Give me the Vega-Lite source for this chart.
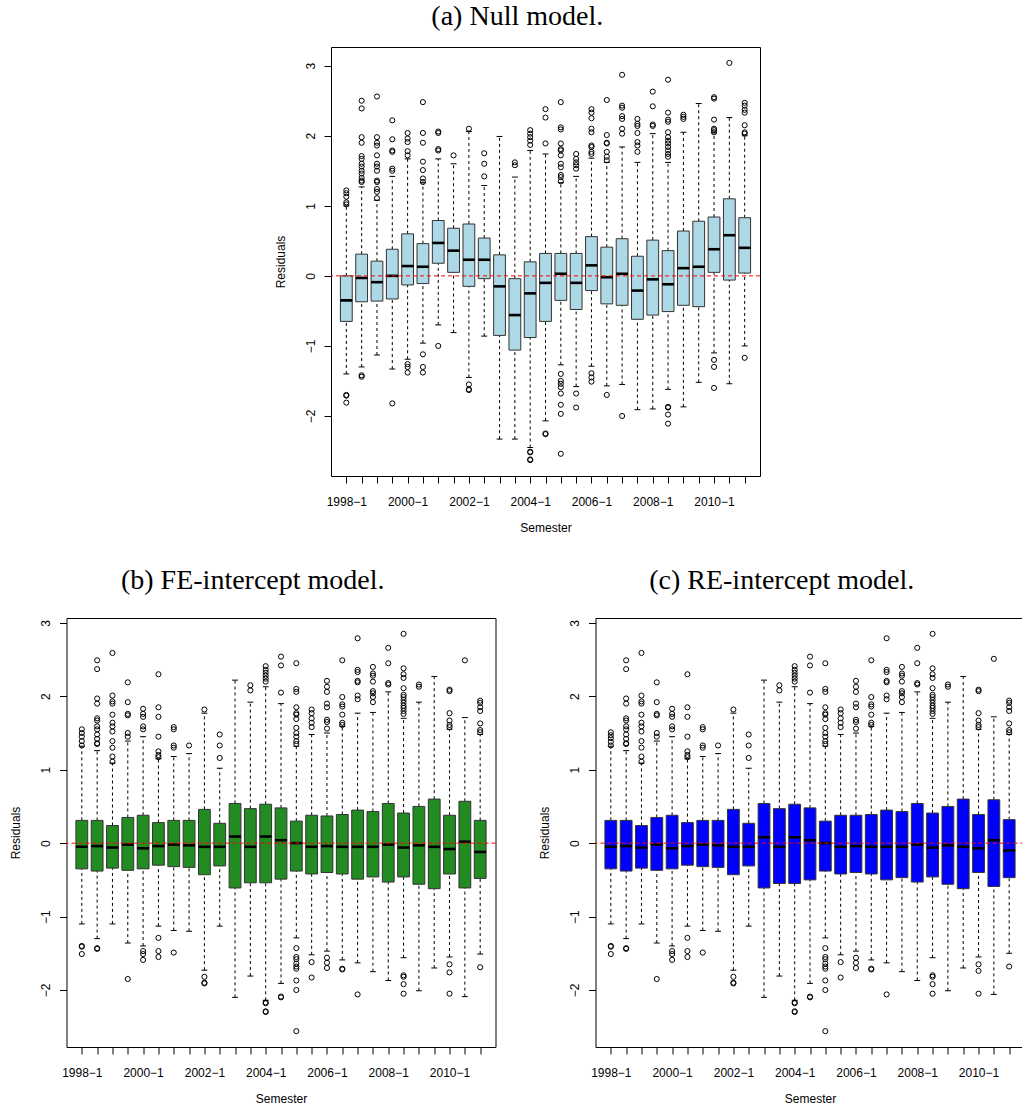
{
"$schema": "https://vega.github.io/schema/vega-lite/v6.json",
"padding": {"left": 8.5, "top": 2, "right": 0, "bottom": 0},
"background": "white",
"config": {
  "view": {"stroke": "black", "strokeWidth": 1},
  "axis": {"labelFont": "Liberation Sans", "titleFont": "Liberation Sans", "labelFontSize": 12, "titleFontSize": 12, "titleFontWeight": "normal", "labelColor": "#000", "titleColor": "#000", "tickColor": "#000", "domain": false, "grid": false, "tickSize": 7, "tickWidth": 1},
  "title": {"font": "Liberation Serif", "fontSize": 28, "fontWeight": "normal", "color": "#000", "frame": "bounds", "anchor": "middle", "baseline": "alphabetic"}
},
"datasets": {
  "a_box": [
    {"s":"1998-1","lo":-1.40,"q1":-0.65,"med":-0.35,"q3":0.00,"hi":1.00},
    {"s":"1998-2","lo":-1.30,"q1":-0.37,"med":-0.03,"q3":0.31,"hi":1.27},
    {"s":"1999-1","lo":-1.13,"q1":-0.36,"med":-0.09,"q3":0.21,"hi":1.08},
    {"s":"1999-2","lo":-1.33,"q1":-0.33,"med":0.00,"q3":0.38,"hi":1.42},
    {"s":"2000-1","lo":-1.19,"q1":-0.13,"med":0.14,"q3":0.60,"hi":1.67},
    {"s":"2000-2","lo":-0.96,"q1":-0.11,"med":0.13,"q3":0.46,"hi":1.33},
    {"s":"2001-1","lo":-0.70,"q1":0.18,"med":0.47,"q3":0.79,"hi":1.67},
    {"s":"2001-2","lo":-0.81,"q1":0.05,"med":0.36,"q3":0.68,"hi":1.60},
    {"s":"2002-1","lo":-1.45,"q1":-0.15,"med":0.23,"q3":0.74,"hi":2.06},
    {"s":"2002-2","lo":-0.86,"q1":-0.04,"med":0.23,"q3":0.54,"hi":1.29},
    {"s":"2003-1","lo":-2.33,"q1":-0.85,"med":-0.15,"q3":0.30,"hi":1.99},
    {"s":"2003-2","lo":-2.33,"q1":-1.06,"med":-0.56,"q3":-0.04,"hi":1.41},
    {"s":"2004-1","lo":-2.45,"q1":-0.88,"med":-0.25,"q3":0.20,"hi":1.79},
    {"s":"2004-2","lo":-2.07,"q1":-0.65,"med":-0.10,"q3":0.32,"hi":1.74},
    {"s":"2005-1","lo":-1.27,"q1":-0.35,"med":0.03,"q3":0.32,"hi":1.33},
    {"s":"2005-2","lo":-1.58,"q1":-0.48,"med":-0.10,"q3":0.32,"hi":1.42},
    {"s":"2006-1","lo":-1.29,"q1":-0.21,"med":0.15,"q3":0.56,"hi":1.68},
    {"s":"2006-2","lo":-1.57,"q1":-0.40,"med":-0.02,"q3":0.41,"hi":1.62},
    {"s":"2007-1","lo":-1.55,"q1":-0.42,"med":0.03,"q3":0.53,"hi":1.84},
    {"s":"2007-2","lo":-1.91,"q1":-0.62,"med":-0.21,"q3":0.28,"hi":1.62},
    {"s":"2008-1","lo":-1.90,"q1":-0.56,"med":-0.05,"q3":0.51,"hi":2.03},
    {"s":"2008-2","lo":-1.62,"q1":-0.51,"med":-0.12,"q3":0.36,"hi":1.62},
    {"s":"2009-1","lo":-1.87,"q1":-0.42,"med":0.11,"q3":0.64,"hi":2.05},
    {"s":"2009-2","lo":-1.52,"q1":-0.44,"med":0.13,"q3":0.78,"hi":2.46},
    {"s":"2010-1","lo":-1.10,"q1":0.05,"med":0.38,"q3":0.84,"hi":2.04},
    {"s":"2010-2","lo":-1.54,"q1":-0.06,"med":0.58,"q3":1.10,"hi":2.26},
    {"s":"2011-1","lo":-1.00,"q1":0.04,"med":0.40,"q3":0.83,"hi":2.00}
  ],
  "a_out": [
    {"s":"1998-1","v":1.02},{"s":"1998-1","v":1.05},{"s":"1998-1","v":1.13},{"s":"1998-1","v":1.18},{"s":"1998-1","v":1.22},{"s":"1998-1","v":-1.70},{"s":"1998-1","v":-1.71},{"s":"1998-1","v":-1.81},
    {"s":"1998-2","v":2.50},{"s":"1998-2","v":2.39},{"s":"1998-2","v":1.98},{"s":"1998-2","v":1.90},{"s":"1998-2","v":1.71},{"s":"1998-2","v":1.67},{"s":"1998-2","v":1.60},{"s":"1998-2","v":1.56},{"s":"1998-2","v":1.50},{"s":"1998-2","v":1.46},{"s":"1998-2","v":1.40},{"s":"1998-2","v":1.36},{"s":"1998-2","v":1.34},{"s":"1998-2","v":-1.42},{"s":"1998-2","v":-1.44},
    {"s":"1999-1","v":2.56},{"s":"1999-1","v":1.98},{"s":"1999-1","v":1.90},{"s":"1999-1","v":1.86},{"s":"1999-1","v":1.72},{"s":"1999-1","v":1.60},{"s":"1999-1","v":1.56},{"s":"1999-1","v":1.50},{"s":"1999-1","v":1.36},{"s":"1999-1","v":1.34},{"s":"1999-1","v":1.24},{"s":"1999-1","v":1.20},{"s":"1999-1","v":1.11},
    {"s":"1999-2","v":2.22},{"s":"1999-2","v":1.95},{"s":"1999-2","v":1.79},{"s":"1999-2","v":1.77},{"s":"1999-2","v":1.53},{"s":"1999-2","v":1.50},{"s":"1999-2","v":-1.82},
    {"s":"2000-1","v":2.04},{"s":"2000-1","v":1.96},{"s":"2000-1","v":1.91},{"s":"2000-1","v":1.78},{"s":"2000-1","v":1.72},{"s":"2000-1","v":-1.26},{"s":"2000-1","v":-1.30},{"s":"2000-1","v":-1.38},
    {"s":"2000-2","v":2.48},{"s":"2000-2","v":2.04},{"s":"2000-2","v":1.90},{"s":"2000-2","v":1.63},{"s":"2000-2","v":1.51},{"s":"2000-2","v":1.39},{"s":"2000-2","v":1.34},{"s":"2000-2","v":-1.12},{"s":"2000-2","v":-1.30},{"s":"2000-2","v":-1.38},
    {"s":"2001-1","v":2.06},{"s":"2001-1","v":2.04},{"s":"2001-1","v":1.81},{"s":"2001-1","v":1.79},{"s":"2001-1","v":-1.00},
    {"s":"2001-2","v":1.72},
    {"s":"2002-1","v":2.10},{"s":"2002-1","v":-1.55},{"s":"2002-1","v":-1.62},{"s":"2002-1","v":-1.63},
    {"s":"2002-2","v":1.75},{"s":"2002-2","v":1.60},{"s":"2002-2","v":1.42},
    {"s":"2003-2","v":1.62},{"s":"2003-2","v":1.58},
    {"s":"2004-1","v":2.08},{"s":"2004-1","v":2.03},{"s":"2004-1","v":1.98},{"s":"2004-1","v":1.93},{"s":"2004-1","v":1.87},{"s":"2004-1","v":-2.51},{"s":"2004-1","v":-2.52},{"s":"2004-1","v":-2.62},{"s":"2004-1","v":-2.63},
    {"s":"2004-2","v":2.38},{"s":"2004-2","v":2.26},{"s":"2004-2","v":1.89},{"s":"2004-2","v":-2.25},{"s":"2004-2","v":-2.26},
    {"s":"2005-1","v":2.48},{"s":"2005-1","v":2.12},{"s":"2005-1","v":2.09},{"s":"2005-1","v":1.89},{"s":"2005-1","v":1.81},{"s":"2005-1","v":1.79},{"s":"2005-1","v":1.72},{"s":"2005-1","v":1.60},{"s":"2005-1","v":1.55},{"s":"2005-1","v":1.44},{"s":"2005-1","v":1.41},{"s":"2005-1","v":1.35},{"s":"2005-1","v":-1.40},{"s":"2005-1","v":-1.50},{"s":"2005-1","v":-1.54},{"s":"2005-1","v":-1.59},{"s":"2005-1","v":-1.68},{"s":"2005-1","v":-1.84},{"s":"2005-1","v":-1.97},{"s":"2005-1","v":-2.54},
    {"s":"2005-2","v":1.74},{"s":"2005-2","v":1.67},{"s":"2005-2","v":1.62},{"s":"2005-2","v":1.58},{"s":"2005-2","v":1.53},{"s":"2005-2","v":-1.68},{"s":"2005-2","v":-1.88},
    {"s":"2006-1","v":2.38},{"s":"2006-1","v":2.33},{"s":"2006-1","v":2.25},{"s":"2006-1","v":2.10},{"s":"2006-1","v":2.05},{"s":"2006-1","v":1.86},{"s":"2006-1","v":1.84},{"s":"2006-1","v":1.77},{"s":"2006-1","v":1.74},{"s":"2006-1","v":-1.39},{"s":"2006-1","v":-1.45},{"s":"2006-1","v":-1.51},
    {"s":"2006-2","v":2.51},{"s":"2006-2","v":2.01},{"s":"2006-2","v":1.90},{"s":"2006-2","v":1.89},{"s":"2006-2","v":1.77},{"s":"2006-2","v":1.70},{"s":"2006-2","v":1.65},{"s":"2006-2","v":-1.70},
    {"s":"2007-1","v":2.87},{"s":"2007-1","v":2.43},{"s":"2007-1","v":2.40},{"s":"2007-1","v":2.28},{"s":"2007-1","v":2.24},{"s":"2007-1","v":2.10},{"s":"2007-1","v":2.03},{"s":"2007-1","v":-2.00},
    {"s":"2007-2","v":2.24},{"s":"2007-2","v":2.17},{"s":"2007-2","v":2.14},{"s":"2007-2","v":2.04},{"s":"2007-2","v":1.91},{"s":"2007-2","v":1.86},{"s":"2007-2","v":1.77},
    {"s":"2008-1","v":2.63},{"s":"2008-1","v":2.42},{"s":"2008-1","v":2.16},{"s":"2008-1","v":2.14},
    {"s":"2008-2","v":2.80},{"s":"2008-2","v":2.33},{"s":"2008-2","v":2.23},{"s":"2008-2","v":2.20},{"s":"2008-2","v":2.05},{"s":"2008-2","v":1.98},{"s":"2008-2","v":1.93},{"s":"2008-2","v":1.89},{"s":"2008-2","v":1.84},{"s":"2008-2","v":1.79},{"s":"2008-2","v":1.74},{"s":"2008-2","v":1.70},{"s":"2008-2","v":-1.87},{"s":"2008-2","v":-1.88},{"s":"2008-2","v":-1.98},{"s":"2008-2","v":-2.11},
    {"s":"2009-1","v":2.30},{"s":"2009-1","v":2.27},{"s":"2009-1","v":2.24},
    {"s":"2010-1","v":2.55},{"s":"2010-1","v":2.53},{"s":"2010-1","v":2.23},{"s":"2010-1","v":2.10},{"s":"2010-1","v":2.08},{"s":"2010-1","v":2.05},{"s":"2010-1","v":-1.20},{"s":"2010-1","v":-1.30},{"s":"2010-1","v":-1.60},
    {"s":"2010-2","v":3.04},
    {"s":"2011-1","v":2.47},{"s":"2011-1","v":2.43},{"s":"2011-1","v":2.37},{"s":"2011-1","v":2.33},{"s":"2011-1","v":2.15},{"s":"2011-1","v":2.05},{"s":"2011-1","v":2.03},{"s":"2011-1","v":-1.17}
  ],
  "b_box": [
    {"s":"1998-1","lo":-1.10,"q1":-0.35,"med":-0.05,"q3":0.31,"hi":1.32},
    {"s":"1998-2","lo":-1.30,"q1":-0.38,"med":-0.04,"q3":0.31,"hi":1.26},
    {"s":"1999-1","lo":-1.10,"q1":-0.34,"med":-0.06,"q3":0.24,"hi":1.09},
    {"s":"1999-2","lo":-1.36,"q1":-0.37,"med":-0.02,"q3":0.35,"hi":1.39},
    {"s":"2000-1","lo":-1.40,"q1":-0.35,"med":-0.07,"q3":0.38,"hi":1.45},
    {"s":"2000-2","lo":-1.13,"q1":-0.30,"med":-0.04,"q3":0.28,"hi":1.15},
    {"s":"2001-1","lo":-1.19,"q1":-0.32,"med":-0.02,"q3":0.31,"hi":1.18},
    {"s":"2001-2","lo":-1.20,"q1":-0.33,"med":-0.03,"q3":0.31,"hi":1.22},
    {"s":"2002-1","lo":-1.73,"q1":-0.43,"med":-0.05,"q3":0.46,"hi":1.77},
    {"s":"2002-2","lo":-1.13,"q1":-0.31,"med":-0.05,"q3":0.27,"hi":1.02},
    {"s":"2003-1","lo":-2.10,"q1":-0.61,"med":0.09,"q3":0.54,"hi":2.22},
    {"s":"2003-2","lo":-1.81,"q1":-0.54,"med":-0.05,"q3":0.47,"hi":1.92},
    {"s":"2004-1","lo":-2.14,"q1":-0.54,"med":0.09,"q3":0.53,"hi":2.13},
    {"s":"2004-2","lo":-1.91,"q1":-0.49,"med":0.04,"q3":0.48,"hi":1.90},
    {"s":"2005-1","lo":-1.29,"q1":-0.38,"med":0.00,"q3":0.30,"hi":1.32},
    {"s":"2005-2","lo":-1.52,"q1":-0.42,"med":-0.05,"q3":0.38,"hi":1.48},
    {"s":"2006-1","lo":-1.47,"q1":-0.40,"med":-0.04,"q3":0.37,"hi":1.50},
    {"s":"2006-2","lo":-1.59,"q1":-0.42,"med":-0.05,"q3":0.39,"hi":1.59},
    {"s":"2007-1","lo":-1.63,"q1":-0.49,"med":-0.05,"q3":0.45,"hi":1.77},
    {"s":"2007-2","lo":-1.75,"q1":-0.46,"med":-0.05,"q3":0.43,"hi":1.78},
    {"s":"2008-1","lo":-1.87,"q1":-0.53,"med":-0.02,"q3":0.54,"hi":2.06},
    {"s":"2008-2","lo":-1.56,"q1":-0.46,"med":-0.06,"q3":0.41,"hi":1.70},
    {"s":"2009-1","lo":-2.01,"q1":-0.56,"med":-0.03,"q3":0.50,"hi":1.92},
    {"s":"2009-2","lo":-1.70,"q1":-0.62,"med":-0.05,"q3":0.60,"hi":2.27},
    {"s":"2010-1","lo":-1.55,"q1":-0.42,"med":-0.08,"q3":0.38,"hi":1.55},
    {"s":"2010-2","lo":-2.09,"q1":-0.61,"med":0.02,"q3":0.57,"hi":1.71},
    {"s":"2011-1","lo":-1.51,"q1":-0.48,"med":-0.12,"q3":0.31,"hi":1.48}
  ],
  "b_out": [
    {"s":"1998-1","v":1.55},{"s":"1998-1","v":1.50},{"s":"1998-1","v":1.45},{"s":"1998-1","v":1.39},{"s":"1998-1","v":1.33},{"s":"1998-1","v":-1.40},{"s":"1998-1","v":-1.41},{"s":"1998-1","v":-1.51},
    {"s":"1998-2","v":2.49},{"s":"1998-2","v":2.37},{"s":"1998-2","v":1.97},{"s":"1998-2","v":1.90},{"s":"1998-2","v":1.70},{"s":"1998-2","v":1.67},{"s":"1998-2","v":1.59},{"s":"1998-2","v":1.55},{"s":"1998-2","v":1.48},{"s":"1998-2","v":1.42},{"s":"1998-2","v":1.36},{"s":"1998-2","v":1.35},{"s":"1998-2","v":-1.43},{"s":"1998-2","v":-1.44},
    {"s":"1999-1","v":2.59},{"s":"1999-1","v":2.01},{"s":"1999-1","v":1.93},{"s":"1999-1","v":1.90},{"s":"1999-1","v":1.75},{"s":"1999-1","v":1.64},{"s":"1999-1","v":1.59},{"s":"1999-1","v":1.52},{"s":"1999-1","v":1.39},{"s":"1999-1","v":1.30},{"s":"1999-1","v":1.18},{"s":"1999-1","v":1.11},
    {"s":"1999-2","v":2.19},{"s":"1999-2","v":1.92},{"s":"1999-2","v":1.76},{"s":"1999-2","v":1.74},{"s":"1999-2","v":1.50},{"s":"1999-2","v":1.45},{"s":"1999-2","v":-1.85},
    {"s":"2000-1","v":1.83},{"s":"2000-1","v":1.76},{"s":"2000-1","v":1.72},{"s":"2000-1","v":1.59},{"s":"2000-1","v":1.55},{"s":"2000-1","v":-1.47},{"s":"2000-1","v":-1.51},{"s":"2000-1","v":-1.59},
    {"s":"2000-2","v":2.30},{"s":"2000-2","v":1.85},{"s":"2000-2","v":1.72},{"s":"2000-2","v":1.45},{"s":"2000-2","v":1.25},{"s":"2000-2","v":1.20},{"s":"2000-2","v":1.17},{"s":"2000-2","v":-1.29},{"s":"2000-2","v":-1.47},{"s":"2000-2","v":-1.55},
    {"s":"2001-1","v":1.58},{"s":"2001-1","v":1.55},{"s":"2001-1","v":1.33},{"s":"2001-1","v":1.30},{"s":"2001-1","v":-1.49},
    {"s":"2001-2","v":1.33},
    {"s":"2002-1","v":1.82},{"s":"2002-1","v":-1.82},{"s":"2002-1","v":-1.90},{"s":"2002-1","v":-1.91},
    {"s":"2002-2","v":1.48},{"s":"2002-2","v":1.33},{"s":"2002-2","v":1.16},
    {"s":"2003-2","v":2.15},{"s":"2003-2","v":2.08},
    {"s":"2004-1","v":2.41},{"s":"2004-1","v":2.36},{"s":"2004-1","v":2.32},{"s":"2004-1","v":2.28},{"s":"2004-1","v":2.24},{"s":"2004-1","v":2.20},{"s":"2004-1","v":-2.17},{"s":"2004-1","v":-2.18},{"s":"2004-1","v":-2.29},{"s":"2004-1","v":-2.30},
    {"s":"2004-2","v":2.54},{"s":"2004-2","v":2.42},{"s":"2004-2","v":2.05},{"s":"2004-2","v":-2.09},{"s":"2004-2","v":-2.10},
    {"s":"2005-1","v":2.45},{"s":"2005-1","v":2.10},{"s":"2005-1","v":2.06},{"s":"2005-1","v":1.85},{"s":"2005-1","v":1.77},{"s":"2005-1","v":1.75},{"s":"2005-1","v":1.69},{"s":"2005-1","v":1.57},{"s":"2005-1","v":1.50},{"s":"2005-1","v":1.45},{"s":"2005-1","v":1.39},{"s":"2005-1","v":1.35},{"s":"2005-1","v":-1.43},{"s":"2005-1","v":-1.55},{"s":"2005-1","v":-1.58},{"s":"2005-1","v":-1.64},{"s":"2005-1","v":-1.68},{"s":"2005-1","v":-1.71},{"s":"2005-1","v":-1.87},{"s":"2005-1","v":-2.00},{"s":"2005-1","v":-2.56},
    {"s":"2005-2","v":1.82},{"s":"2005-2","v":1.77},{"s":"2005-2","v":1.70},{"s":"2005-2","v":1.64},{"s":"2005-2","v":1.58},{"s":"2005-2","v":-1.62},{"s":"2005-2","v":-1.83},
    {"s":"2006-1","v":2.21},{"s":"2006-1","v":2.13},{"s":"2006-1","v":2.06},{"s":"2006-1","v":1.90},{"s":"2006-1","v":1.85},{"s":"2006-1","v":1.68},{"s":"2006-1","v":1.65},{"s":"2006-1","v":1.56},{"s":"2006-1","v":-1.56},{"s":"2006-1","v":-1.63},{"s":"2006-1","v":-1.70},
    {"s":"2006-2","v":2.49},{"s":"2006-2","v":1.99},{"s":"2006-2","v":1.89},{"s":"2006-2","v":1.86},{"s":"2006-2","v":1.75},{"s":"2006-2","v":1.64},{"s":"2006-2","v":1.61},{"s":"2006-2","v":-1.71},{"s":"2006-2","v":-1.72},
    {"s":"2007-1","v":2.79},{"s":"2007-1","v":2.36},{"s":"2007-1","v":2.33},{"s":"2007-1","v":2.21},{"s":"2007-1","v":2.19},{"s":"2007-1","v":2.01},{"s":"2007-1","v":1.96},{"s":"2007-1","v":-2.06},
    {"s":"2007-2","v":2.40},{"s":"2007-2","v":2.31},{"s":"2007-2","v":2.28},{"s":"2007-2","v":2.20},{"s":"2007-2","v":2.07},{"s":"2007-2","v":2.04},{"s":"2007-2","v":1.99},{"s":"2007-2","v":1.92},
    {"s":"2008-1","v":2.66},{"s":"2008-1","v":2.45},{"s":"2008-1","v":2.18},{"s":"2008-1","v":2.16},
    {"s":"2008-2","v":2.85},{"s":"2008-2","v":2.38},{"s":"2008-2","v":2.30},{"s":"2008-2","v":2.25},{"s":"2008-2","v":2.11},{"s":"2008-2","v":2.02},{"s":"2008-2","v":1.99},{"s":"2008-2","v":1.95},{"s":"2008-2","v":1.91},{"s":"2008-2","v":1.87},{"s":"2008-2","v":1.84},{"s":"2008-2","v":1.80},{"s":"2008-2","v":1.76},{"s":"2008-2","v":-1.80},{"s":"2008-2","v":-1.82},{"s":"2008-2","v":-1.92},{"s":"2008-2","v":-2.05},
    {"s":"2009-1","v":2.16},{"s":"2009-1","v":2.13},
    {"s":"2010-1","v":2.09},{"s":"2010-1","v":2.07},{"s":"2010-1","v":1.77},{"s":"2010-1","v":1.67},{"s":"2010-1","v":1.61},{"s":"2010-1","v":1.58},{"s":"2010-1","v":-1.65},{"s":"2010-1","v":-1.76},{"s":"2010-1","v":-2.05},
    {"s":"2010-2","v":2.49},
    {"s":"2011-1","v":1.94},{"s":"2011-1","v":1.91},{"s":"2011-1","v":1.85},{"s":"2011-1","v":1.80},{"s":"2011-1","v":1.63},{"s":"2011-1","v":1.54},{"s":"2011-1","v":1.51},{"s":"2011-1","v":-1.69}
  ],
  "c_box": [
    {"s":"1998-1","lo":-1.10,"q1":-0.35,"med":-0.05,"q3":0.31,"hi":1.32},
    {"s":"1998-2","lo":-1.30,"q1":-0.38,"med":-0.04,"q3":0.31,"hi":1.26},
    {"s":"1999-1","lo":-1.10,"q1":-0.34,"med":-0.06,"q3":0.24,"hi":1.09},
    {"s":"1999-2","lo":-1.36,"q1":-0.37,"med":-0.02,"q3":0.35,"hi":1.39},
    {"s":"2000-1","lo":-1.40,"q1":-0.35,"med":-0.07,"q3":0.38,"hi":1.45},
    {"s":"2000-2","lo":-1.13,"q1":-0.30,"med":-0.04,"q3":0.28,"hi":1.15},
    {"s":"2001-1","lo":-1.19,"q1":-0.32,"med":-0.02,"q3":0.31,"hi":1.18},
    {"s":"2001-2","lo":-1.20,"q1":-0.33,"med":-0.03,"q3":0.31,"hi":1.22},
    {"s":"2002-1","lo":-1.73,"q1":-0.43,"med":-0.05,"q3":0.46,"hi":1.77},
    {"s":"2002-2","lo":-1.13,"q1":-0.31,"med":-0.05,"q3":0.27,"hi":1.02},
    {"s":"2003-1","lo":-2.10,"q1":-0.61,"med":0.08,"q3":0.54,"hi":2.22},
    {"s":"2003-2","lo":-1.81,"q1":-0.55,"med":-0.05,"q3":0.47,"hi":1.92},
    {"s":"2004-1","lo":-2.14,"q1":-0.55,"med":0.08,"q3":0.53,"hi":2.13},
    {"s":"2004-2","lo":-1.91,"q1":-0.50,"med":0.04,"q3":0.48,"hi":1.90},
    {"s":"2005-1","lo":-1.29,"q1":-0.38,"med":0.00,"q3":0.30,"hi":1.32},
    {"s":"2005-2","lo":-1.52,"q1":-0.42,"med":-0.05,"q3":0.38,"hi":1.48},
    {"s":"2006-1","lo":-1.47,"q1":-0.40,"med":-0.04,"q3":0.38,"hi":1.50},
    {"s":"2006-2","lo":-1.59,"q1":-0.42,"med":-0.05,"q3":0.39,"hi":1.59},
    {"s":"2007-1","lo":-1.63,"q1":-0.50,"med":-0.05,"q3":0.45,"hi":1.77},
    {"s":"2007-2","lo":-1.75,"q1":-0.47,"med":-0.05,"q3":0.43,"hi":1.78},
    {"s":"2008-1","lo":-1.87,"q1":-0.53,"med":-0.02,"q3":0.54,"hi":2.06},
    {"s":"2008-2","lo":-1.56,"q1":-0.46,"med":-0.06,"q3":0.41,"hi":1.70},
    {"s":"2009-1","lo":-2.01,"q1":-0.56,"med":-0.03,"q3":0.50,"hi":1.92},
    {"s":"2009-2","lo":-1.70,"q1":-0.62,"med":-0.05,"q3":0.60,"hi":2.27},
    {"s":"2010-1","lo":-1.55,"q1":-0.40,"med":-0.07,"q3":0.39,"hi":1.55},
    {"s":"2010-2","lo":-2.06,"q1":-0.59,"med":0.04,"q3":0.59,"hi":1.72},
    {"s":"2011-1","lo":-1.50,"q1":-0.47,"med":-0.10,"q3":0.32,"hi":1.48}
  ],
  "c_out": [
    {"s":"1998-1","v":1.51},{"s":"1998-1","v":1.47},{"s":"1998-1","v":1.43},{"s":"1998-1","v":1.38},{"s":"1998-1","v":1.33},{"s":"1998-1","v":-1.40},{"s":"1998-1","v":-1.41},{"s":"1998-1","v":-1.51},
    {"s":"1998-2","v":2.49},{"s":"1998-2","v":2.37},{"s":"1998-2","v":1.97},{"s":"1998-2","v":1.90},{"s":"1998-2","v":1.70},{"s":"1998-2","v":1.67},{"s":"1998-2","v":1.59},{"s":"1998-2","v":1.55},{"s":"1998-2","v":1.48},{"s":"1998-2","v":1.42},{"s":"1998-2","v":1.36},{"s":"1998-2","v":1.35},{"s":"1998-2","v":-1.43},{"s":"1998-2","v":-1.44},
    {"s":"1999-1","v":2.59},{"s":"1999-1","v":2.01},{"s":"1999-1","v":1.93},{"s":"1999-1","v":1.90},{"s":"1999-1","v":1.75},{"s":"1999-1","v":1.64},{"s":"1999-1","v":1.59},{"s":"1999-1","v":1.52},{"s":"1999-1","v":1.39},{"s":"1999-1","v":1.30},{"s":"1999-1","v":1.18},{"s":"1999-1","v":1.11},
    {"s":"1999-2","v":2.19},{"s":"1999-2","v":1.92},{"s":"1999-2","v":1.76},{"s":"1999-2","v":1.74},{"s":"1999-2","v":1.50},{"s":"1999-2","v":1.45},{"s":"1999-2","v":-1.85},
    {"s":"2000-1","v":1.83},{"s":"2000-1","v":1.76},{"s":"2000-1","v":1.72},{"s":"2000-1","v":1.59},{"s":"2000-1","v":1.55},{"s":"2000-1","v":-1.47},{"s":"2000-1","v":-1.51},{"s":"2000-1","v":-1.59},
    {"s":"2000-2","v":2.30},{"s":"2000-2","v":1.85},{"s":"2000-2","v":1.72},{"s":"2000-2","v":1.45},{"s":"2000-2","v":1.25},{"s":"2000-2","v":1.20},{"s":"2000-2","v":1.17},{"s":"2000-2","v":-1.29},{"s":"2000-2","v":-1.47},{"s":"2000-2","v":-1.55},
    {"s":"2001-1","v":1.58},{"s":"2001-1","v":1.55},{"s":"2001-1","v":1.33},{"s":"2001-1","v":1.30},{"s":"2001-1","v":-1.49},
    {"s":"2001-2","v":1.33},
    {"s":"2002-1","v":1.82},{"s":"2002-1","v":-1.82},{"s":"2002-1","v":-1.90},{"s":"2002-1","v":-1.91},
    {"s":"2002-2","v":1.48},{"s":"2002-2","v":1.33},{"s":"2002-2","v":1.16},
    {"s":"2003-2","v":2.15},{"s":"2003-2","v":2.08},
    {"s":"2004-1","v":2.41},{"s":"2004-1","v":2.36},{"s":"2004-1","v":2.32},{"s":"2004-1","v":2.28},{"s":"2004-1","v":2.24},{"s":"2004-1","v":2.20},{"s":"2004-1","v":-2.17},{"s":"2004-1","v":-2.18},{"s":"2004-1","v":-2.29},{"s":"2004-1","v":-2.30},
    {"s":"2004-2","v":2.54},{"s":"2004-2","v":2.42},{"s":"2004-2","v":2.05},{"s":"2004-2","v":-2.09},{"s":"2004-2","v":-2.10},
    {"s":"2005-1","v":2.45},{"s":"2005-1","v":2.10},{"s":"2005-1","v":2.06},{"s":"2005-1","v":1.85},{"s":"2005-1","v":1.77},{"s":"2005-1","v":1.75},{"s":"2005-1","v":1.69},{"s":"2005-1","v":1.57},{"s":"2005-1","v":1.50},{"s":"2005-1","v":1.45},{"s":"2005-1","v":1.39},{"s":"2005-1","v":1.35},{"s":"2005-1","v":-1.43},{"s":"2005-1","v":-1.55},{"s":"2005-1","v":-1.58},{"s":"2005-1","v":-1.64},{"s":"2005-1","v":-1.68},{"s":"2005-1","v":-1.71},{"s":"2005-1","v":-1.87},{"s":"2005-1","v":-2.00},{"s":"2005-1","v":-2.56},
    {"s":"2005-2","v":1.82},{"s":"2005-2","v":1.77},{"s":"2005-2","v":1.70},{"s":"2005-2","v":1.64},{"s":"2005-2","v":1.58},{"s":"2005-2","v":-1.62},{"s":"2005-2","v":-1.83},
    {"s":"2006-1","v":2.21},{"s":"2006-1","v":2.13},{"s":"2006-1","v":2.06},{"s":"2006-1","v":1.90},{"s":"2006-1","v":1.85},{"s":"2006-1","v":1.68},{"s":"2006-1","v":1.65},{"s":"2006-1","v":1.56},{"s":"2006-1","v":-1.56},{"s":"2006-1","v":-1.63},{"s":"2006-1","v":-1.70},
    {"s":"2006-2","v":2.49},{"s":"2006-2","v":1.99},{"s":"2006-2","v":1.89},{"s":"2006-2","v":1.86},{"s":"2006-2","v":1.75},{"s":"2006-2","v":1.64},{"s":"2006-2","v":1.61},{"s":"2006-2","v":-1.71},{"s":"2006-2","v":-1.72},
    {"s":"2007-1","v":2.79},{"s":"2007-1","v":2.36},{"s":"2007-1","v":2.33},{"s":"2007-1","v":2.21},{"s":"2007-1","v":2.19},{"s":"2007-1","v":2.01},{"s":"2007-1","v":1.96},{"s":"2007-1","v":-2.06},
    {"s":"2007-2","v":2.40},{"s":"2007-2","v":2.31},{"s":"2007-2","v":2.28},{"s":"2007-2","v":2.20},{"s":"2007-2","v":2.07},{"s":"2007-2","v":2.04},{"s":"2007-2","v":1.99},{"s":"2007-2","v":1.92},
    {"s":"2008-1","v":2.66},{"s":"2008-1","v":2.45},{"s":"2008-1","v":2.18},{"s":"2008-1","v":2.16},
    {"s":"2008-2","v":2.85},{"s":"2008-2","v":2.38},{"s":"2008-2","v":2.30},{"s":"2008-2","v":2.25},{"s":"2008-2","v":2.11},{"s":"2008-2","v":2.02},{"s":"2008-2","v":1.99},{"s":"2008-2","v":1.95},{"s":"2008-2","v":1.91},{"s":"2008-2","v":1.87},{"s":"2008-2","v":1.84},{"s":"2008-2","v":1.80},{"s":"2008-2","v":1.76},{"s":"2008-2","v":-1.80},{"s":"2008-2","v":-1.82},{"s":"2008-2","v":-1.92},{"s":"2008-2","v":-2.05},
    {"s":"2009-1","v":2.16},{"s":"2009-1","v":2.13},
    {"s":"2010-1","v":2.09},{"s":"2010-1","v":2.07},{"s":"2010-1","v":1.77},{"s":"2010-1","v":1.67},{"s":"2010-1","v":1.61},{"s":"2010-1","v":1.58},{"s":"2010-1","v":-1.65},{"s":"2010-1","v":-1.74},{"s":"2010-1","v":-2.05},
    {"s":"2010-2","v":2.51},
    {"s":"2011-1","v":1.94},{"s":"2011-1","v":1.91},{"s":"2011-1","v":1.85},{"s":"2011-1","v":1.80},{"s":"2011-1","v":1.63},{"s":"2011-1","v":1.54},{"s":"2011-1","v":1.51},{"s":"2011-1","v":-1.68}
  ]
},
"spacing": 32,
"center": true,
"vconcat": [
  {
    "title": {"text": "(a) Null model.", "offset": 16},
    "width": 429, "height": 429,
    "layer": [
      {"data": {"name": "a_box"}, "mark": {"type": "rule", "color": "black", "strokeDash": [3,3], "strokeWidth": 1},
       "encoding": {
         "x": {"field": "s", "type": "ordinal", "title": "Semester", "scale": {"type": "point", "padding": 1.58, "domain": ["1998-1","1998-2","1999-1","1999-2","2000-1","2000-2","2001-1","2001-2","2002-1","2002-2","2003-1","2003-2","2004-1","2004-2","2005-1","2005-2","2006-1","2006-2","2007-1","2007-2","2008-1","2008-2","2009-1","2009-2","2010-1","2010-2","2011-1"]},
               "axis": {"labelAngle": 0, "labelOverlap": false, "labelPadding": 13, "labelBaseline": "top", "tickSize": 7, "titlePadding": 15, "labelExpr": "indexof(['1998-1','2000-1','2002-1','2004-1','2006-1','2008-1','2010-1'], datum.value) >= 0 ? replace(datum.value, '-', '−') : ''"}},
         "y": {"field": "q3", "type": "quantitative", "title": "Residuals", "scale": {"domain": [-2.857, 3.267], "nice": false, "zero": false},
               "axis": {"values": [-2,-1,0,1,2,3], "format": "d", "labelAngle": 270, "labelAlign": "center", "labelBaseline": "alphabetic", "labelPadding": 10, "titlePadding": 17, "tickSize": 7}},
         "y2": {"field": "hi"}}},
      {"data": {"name": "a_box"}, "mark": {"type": "rule", "color": "black", "strokeDash": [3,3], "strokeWidth": 1},
       "encoding": {"x": {"field": "s", "type": "ordinal", "title": "Semester"}, "y": {"field": "lo", "type": "quantitative", "title": "Residuals"}, "y2": {"field": "q1"}}},
      {"data": {"name": "a_box"}, "mark": {"type": "tick", "color": "black", "size": 5.9, "thickness": 1, "orient": "horizontal", "opacity": 1},
       "encoding": {"x": {"field": "s", "type": "ordinal", "title": "Semester"}, "y": {"field": "hi", "type": "quantitative", "title": "Residuals"}}},
      {"data": {"name": "a_box"}, "mark": {"type": "tick", "color": "black", "size": 5.9, "thickness": 1, "orient": "horizontal", "opacity": 1},
       "encoding": {"x": {"field": "s", "type": "ordinal", "title": "Semester"}, "y": {"field": "lo", "type": "quantitative", "title": "Residuals"}}},
      {"data": {"name": "a_box"}, "mark": {"type": "bar", "width": 11.8, "fill": "#ADD8E6", "stroke": "#333", "strokeWidth": 1},
       "encoding": {"x": {"field": "s", "type": "ordinal", "title": "Semester"}, "y": {"field": "q1", "type": "quantitative", "title": "Residuals"}, "y2": {"field": "q3"}}},
      {"data": {"name": "a_box"}, "mark": {"type": "tick", "color": "black", "size": 11.8, "thickness": 2.6, "orient": "horizontal", "opacity": 1},
       "encoding": {"x": {"field": "s", "type": "ordinal", "title": "Semester"}, "y": {"field": "med", "type": "quantitative", "title": "Residuals"}}},
      {"data": {"name": "a_out"}, "mark": {"type": "point", "shape": "circle", "filled": false, "stroke": "black", "strokeWidth": 1, "size": 26, "opacity": 1},
       "encoding": {"x": {"field": "s", "type": "ordinal", "title": "Semester"}, "y": {"field": "v", "type": "quantitative", "title": "Residuals"}}},
      {"data": {"values": [{}]}, "mark": {"type": "rule", "color": "red", "strokeDash": [4,3], "strokeWidth": 1},
       "encoding": {"y": {"datum": 0, "type": "quantitative", "title": "Residuals"}}}
    ]
  },
  {
    "spacing": 41,
    "hconcat": [
      {
        "title": {"text": "(b) FE-intercept model.", "offset": 23.5},
        "width": 429, "height": 429,
        "layer": [
          {"data": {"name": "b_box"}, "mark": {"type": "rule", "color": "black", "strokeDash": [3,3], "strokeWidth": 1},
           "encoding": {
             "x": {"field": "s", "type": "ordinal", "title": "Semester", "scale": {"type": "point", "padding": 1.58, "domain": ["1998-1","1998-2","1999-1","1999-2","2000-1","2000-2","2001-1","2001-2","2002-1","2002-2","2003-1","2003-2","2004-1","2004-2","2005-1","2005-2","2006-1","2006-2","2007-1","2007-2","2008-1","2008-2","2009-1","2009-2","2010-1","2010-2","2011-1"]},
                   "axis": {"labelAngle": 0, "labelOverlap": false, "labelPadding": 13, "labelBaseline": "top", "tickSize": 7, "titlePadding": 15, "labelExpr": "indexof(['1998-1','2000-1','2002-1','2004-1','2006-1','2008-1','2010-1'], datum.value) >= 0 ? replace(datum.value, '-', '−') : ''"}},
             "y": {"field": "q3", "type": "quantitative", "title": "Residuals", "scale": {"domain": [-2.776, 3.066], "nice": false, "zero": false},
                   "axis": {"values": [-2,-1,0,1,2,3], "format": "d", "labelAngle": 270, "labelAlign": "center", "labelBaseline": "alphabetic", "labelPadding": 10, "titlePadding": 17, "tickSize": 7}},
             "y2": {"field": "hi"}}},
          {"data": {"name": "b_box"}, "mark": {"type": "rule", "color": "black", "strokeDash": [3,3], "strokeWidth": 1},
           "encoding": {"x": {"field": "s", "type": "ordinal", "title": "Semester"}, "y": {"field": "lo", "type": "quantitative", "title": "Residuals"}, "y2": {"field": "q1"}}},
          {"data": {"name": "b_box"}, "mark": {"type": "tick", "color": "black", "size": 5.9, "thickness": 1, "orient": "horizontal", "opacity": 1},
           "encoding": {"x": {"field": "s", "type": "ordinal", "title": "Semester"}, "y": {"field": "hi", "type": "quantitative", "title": "Residuals"}}},
          {"data": {"name": "b_box"}, "mark": {"type": "tick", "color": "black", "size": 5.9, "thickness": 1, "orient": "horizontal", "opacity": 1},
           "encoding": {"x": {"field": "s", "type": "ordinal", "title": "Semester"}, "y": {"field": "lo", "type": "quantitative", "title": "Residuals"}}},
          {"data": {"name": "b_box"}, "mark": {"type": "bar", "width": 11.8, "fill": "#228B22", "stroke": "#333", "strokeWidth": 1},
           "encoding": {"x": {"field": "s", "type": "ordinal", "title": "Semester"}, "y": {"field": "q1", "type": "quantitative", "title": "Residuals"}, "y2": {"field": "q3"}}},
          {"data": {"name": "b_box"}, "mark": {"type": "tick", "color": "black", "size": 11.8, "thickness": 2.6, "orient": "horizontal", "opacity": 1},
           "encoding": {"x": {"field": "s", "type": "ordinal", "title": "Semester"}, "y": {"field": "med", "type": "quantitative", "title": "Residuals"}}},
          {"data": {"name": "b_out"}, "mark": {"type": "point", "shape": "circle", "filled": false, "stroke": "black", "strokeWidth": 1, "size": 26, "opacity": 1},
           "encoding": {"x": {"field": "s", "type": "ordinal", "title": "Semester"}, "y": {"field": "v", "type": "quantitative", "title": "Residuals"}}},
          {"data": {"values": [{}]}, "mark": {"type": "rule", "color": "red", "strokeDash": [4,3], "strokeWidth": 1},
           "encoding": {"y": {"datum": 0, "type": "quantitative", "title": "Residuals"}}}
        ]
      },
      {
        "title": {"text": "(c) RE-intercept model.", "offset": 23.5},
        "width": 429, "height": 429,
        "layer": [
          {"data": {"name": "c_box"}, "mark": {"type": "rule", "color": "black", "strokeDash": [3,3], "strokeWidth": 1},
           "encoding": {
             "x": {"field": "s", "type": "ordinal", "title": "Semester", "scale": {"type": "point", "padding": 1.58, "domain": ["1998-1","1998-2","1999-1","1999-2","2000-1","2000-2","2001-1","2001-2","2002-1","2002-2","2003-1","2003-2","2004-1","2004-2","2005-1","2005-2","2006-1","2006-2","2007-1","2007-2","2008-1","2008-2","2009-1","2009-2","2010-1","2010-2","2011-1"]},
                   "axis": {"labelAngle": 0, "labelOverlap": false, "labelPadding": 13, "labelBaseline": "top", "tickSize": 7, "titlePadding": 15, "labelExpr": "indexof(['1998-1','2000-1','2002-1','2004-1','2006-1','2008-1','2010-1'], datum.value) >= 0 ? replace(datum.value, '-', '−') : ''"}},
             "y": {"field": "q3", "type": "quantitative", "title": "Residuals", "scale": {"domain": [-2.776, 3.066], "nice": false, "zero": false},
                   "axis": {"values": [-2,-1,0,1,2,3], "format": "d", "labelAngle": 270, "labelAlign": "center", "labelBaseline": "alphabetic", "labelPadding": 10, "titlePadding": 17, "tickSize": 7}},
             "y2": {"field": "hi"}}},
          {"data": {"name": "c_box"}, "mark": {"type": "rule", "color": "black", "strokeDash": [3,3], "strokeWidth": 1},
           "encoding": {"x": {"field": "s", "type": "ordinal", "title": "Semester"}, "y": {"field": "lo", "type": "quantitative", "title": "Residuals"}, "y2": {"field": "q1"}}},
          {"data": {"name": "c_box"}, "mark": {"type": "tick", "color": "black", "size": 5.9, "thickness": 1, "orient": "horizontal", "opacity": 1},
           "encoding": {"x": {"field": "s", "type": "ordinal", "title": "Semester"}, "y": {"field": "hi", "type": "quantitative", "title": "Residuals"}}},
          {"data": {"name": "c_box"}, "mark": {"type": "tick", "color": "black", "size": 5.9, "thickness": 1, "orient": "horizontal", "opacity": 1},
           "encoding": {"x": {"field": "s", "type": "ordinal", "title": "Semester"}, "y": {"field": "lo", "type": "quantitative", "title": "Residuals"}}},
          {"data": {"name": "c_box"}, "mark": {"type": "bar", "width": 11.8, "fill": "#0000FF", "stroke": "#333", "strokeWidth": 1},
           "encoding": {"x": {"field": "s", "type": "ordinal", "title": "Semester"}, "y": {"field": "q1", "type": "quantitative", "title": "Residuals"}, "y2": {"field": "q3"}}},
          {"data": {"name": "c_box"}, "mark": {"type": "tick", "color": "black", "size": 11.8, "thickness": 2.6, "orient": "horizontal", "opacity": 1},
           "encoding": {"x": {"field": "s", "type": "ordinal", "title": "Semester"}, "y": {"field": "med", "type": "quantitative", "title": "Residuals"}}},
          {"data": {"name": "c_out"}, "mark": {"type": "point", "shape": "circle", "filled": false, "stroke": "black", "strokeWidth": 1, "size": 26, "opacity": 1},
           "encoding": {"x": {"field": "s", "type": "ordinal", "title": "Semester"}, "y": {"field": "v", "type": "quantitative", "title": "Residuals"}}},
          {"data": {"values": [{}]}, "mark": {"type": "rule", "color": "red", "strokeDash": [4,3], "strokeWidth": 1},
           "encoding": {"y": {"datum": 0, "type": "quantitative", "title": "Residuals"}}}
        ]
      }
    ]
  }
]
}
